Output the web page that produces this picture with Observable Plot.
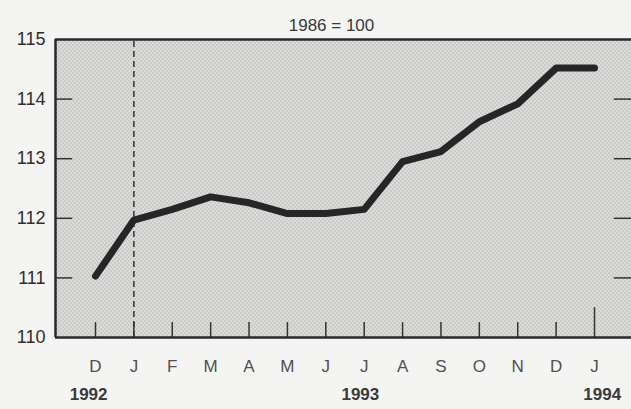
<!DOCTYPE html>
<html><head><meta charset="utf-8">
<script src="https://cdn.jsdelivr.net/npm/d3@7"></script>
<script src="https://cdn.jsdelivr.net/npm/@observablehq/plot@0.6"></script>
<style>body{margin:0;background:#f4f4f2;} svg{display:block;background:#f4f4f2}</style>
</head><body><div id="chart"></div>
<script>
const months = ["D","J","F","M","A","M","J","J","A","S","O","N","D","J"];
const values = [111.03,111.97,112.15,112.36,112.26,112.08,112.08,112.15,112.95,113.12,113.62,113.92,114.52,114.52];
const yTicks = [110,111,112,113,114,115];
const years = ["1992","1993","1994"];
const yearAt = [-0.18,6.9,13.2];
const baseLabel = "1986 = 100";

const idx = months.map((_, i) => i);
const data = idx.map(i => ({i, v: values[i]}));
const xMin = -1.042, xMax = 13.964;

const plot = Plot.plot({
  width: 631, height: 409,
  marginLeft: 55, marginRight: 0, marginTop: 39, marginBottom: 72,
  style: {fontFamily: "Liberation Sans, Arial, sans-serif", background: "#f4f4f2"},
  x: {type: "linear", domain: [xMin, xMax]},
  y: {domain: [110, 115]},
  marks: [
    Plot.frame({fill: "#c8c8c8", stroke: "none"}),
    Plot.ruleX([1], {y1: 110, y2: 115, stroke: "#333", strokeWidth: 1.5, strokeDasharray: "6,4"}),
    Plot.ruleX(idx, {x: d => d, y1: 110, y2: d => d === 13 ? 110.5 : 110.25, stroke: "#333", strokeWidth: 1.5}),
    Plot.ruleY(yTicks.slice(1, 5), {y: d => d, x1: xMin, x2: xMin + 0.45, stroke: "#333", strokeWidth: 1.5}),
    Plot.ruleY(yTicks.slice(1, 5), {y: d => d, x1: xMax - 0.45, x2: xMax, stroke: "#333", strokeWidth: 1.5}),
    Plot.ruleX([xMin], {y1: 110, y2: 115, stroke: "#2a2a2a", strokeWidth: 2.5}),
    Plot.ruleY([110, 115], {x1: xMin, x2: xMax, stroke: "#2a2a2a", strokeWidth: 2.5}),
    Plot.line(data, {x: "i", y: "v", stroke: "#262626", strokeWidth: 7, strokeLinejoin: "round"}),
    Plot.axisY({ticks: yTicks, tickFormat: d => String(d), tickSize: 0, tickPadding: 10, fontSize: 18, fill: "#2e2e2e", label: null}),
    Plot.axisX({ticks: idx, tickFormat: i => months[i], tickSize: 0, tickPadding: 22, fontSize: 17, fill: "#505050", label: null}),
    Plot.text(years, {x: (d, i) => yearAt[i], y: 110, dy: 57, text: d => d, fontSize: 17, fontWeight: "bold", fill: "#3a3a3a"}),
    Plot.text([baseLabel], {frameAnchor: "top", dy: -21, dx: -12, text: d => d, fontSize: 17, fill: "#3a3a3a"})
  ]
});

// stipple pattern on the plot area
const ns = "http://www.w3.org/2000/svg";
const defs = document.createElementNS(ns, "defs");
defs.innerHTML = '<pattern id="stip" width="4" height="4" patternUnits="userSpaceOnUse"><rect width="4" height="4" fill="#dcdcda"/><rect x="0" y="0" width="1" height="1" fill="#959595"/><rect x="2" y="2" width="1" height="1" fill="#959595"/></pattern>';
plot.insertBefore(defs, plot.firstChild);
let fr = plot.querySelector('[aria-label="frame"]');
if (fr && fr.tagName.toLowerCase() !== "rect") fr = fr.querySelector("rect");
if (fr) fr.setAttribute("fill", "url(#stip)");
document.getElementById("chart").appendChild(plot);
</script></body></html>
